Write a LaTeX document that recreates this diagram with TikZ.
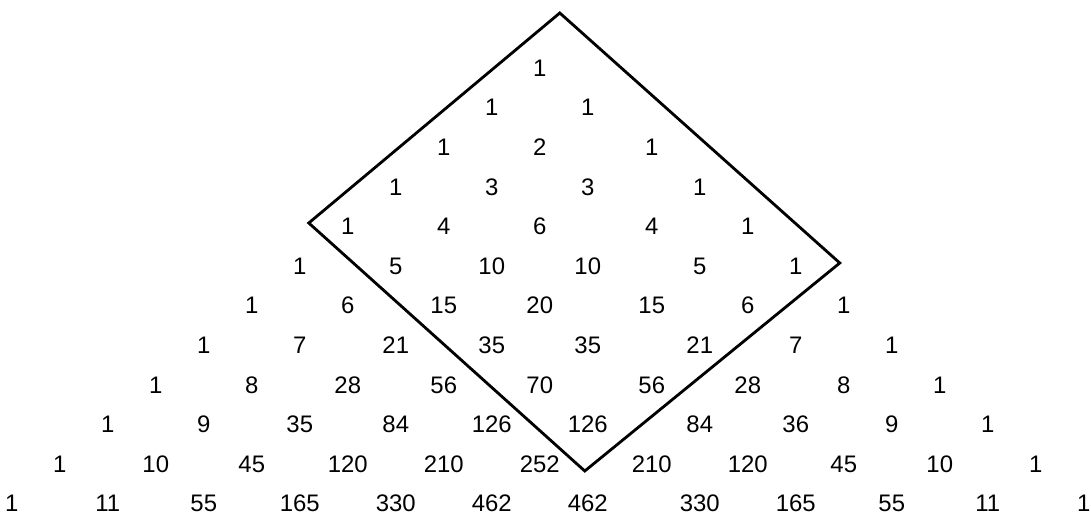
\documentclass[tikz,border=0pt]{standalone}
\usepackage{fontspec}
\setmainfont{Liberation Sans}
\tikzset{epais/.style = {line width=2pt, line join=miter}}
% columns right of the middle are set a little wider
\newcommand{\rangee}[2]{\foreach \v [count=\k from 0] in {#2}
	\node[nombre] (n#1-\k) at ({2*\k-#1+ifthenelse(2*\k-#1>1,1/3,0)},-#1) {\v}}

\begin{document}
\begin{tikzpicture}[x=1.2cm, y=0.99cm,
	nombre/.style = {inner sep=0pt, font=\fontsize{17}{20}\selectfont}]
	\useasboundingbox (-11.2455,1.717) rectangle (11.4837,-11.439);
%The rows
	\rangee{0}{1};
	\rangee{1}{1,1};
	\rangee{2}{1,2,1};
	\rangee{3}{1,3,3,1};
	\rangee{4}{1,4,6,4,1};
	\rangee{5}{1,5,10,10,5,1};
	\rangee{6}{1,6,15,20,15,6,1};
	\rangee{7}{1,7,21,35,35,21,7,1};
	\rangee{8}{1,8,28,56,70,56,28,8,1};
	\rangee{9}{1,9,35,84,126,126,84,36,9,1};
	\rangee{10}{1,10,45,120,210,252,210,120,45,10,1};
	\rangee{11}{1,11,55,165,330,462,462,330,165,55,11,1};
%The frame
	\coordinate (haut) at (0.417,1.389);
	\coordinate (gauche) at (-4.8125,-3.914);
	\coordinate (bas) at (0.9375,-10.177);
	\coordinate (droite) at (6.25,-4.924);
	\draw[epais] (haut) -- (gauche) -- (bas) -- (droite) -- cycle;
\end{tikzpicture}
\end{document}
